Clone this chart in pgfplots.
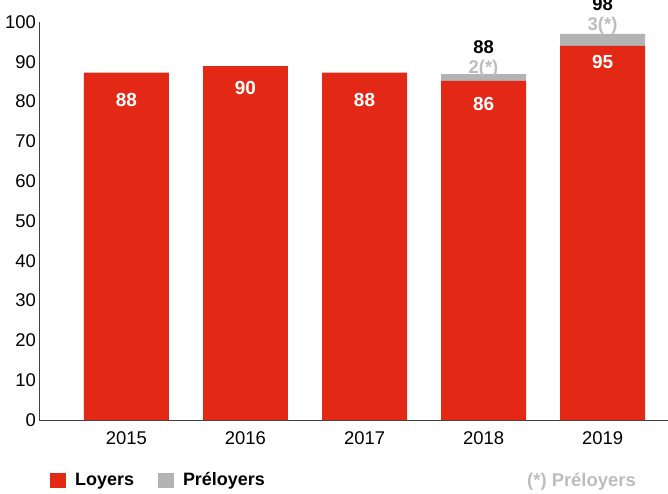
\documentclass[border=0pt]{standalone}
\usepackage{pgfplots}
\pgfplotsset{compat=1.18}
\usepackage{fontspec}
\setmainfont{Liberation Sans}
\definecolor{loyer}{HTML}{E42816}
\definecolor{prelo}{HTML}{B3B3B3}
\definecolor{prelotxt}{HTML}{BDBDBD}
\newcommand\labA{88\\\textcolor{prelotxt}{2(*)}}
\newcommand\labB{98\\\textcolor{prelotxt}{3(*)}}

\begin{document}
\begin{tikzpicture}
\begin{axis}[
  scale only axis,
  width=629bp, height=398bp,
  xmin=-0.735, xmax=4.55,
  ymin=0, ymax=100,
  ybar stacked, bar width=0.714,
  axis x line=bottom, axis y line=left,
  axis line style={-, draw=black!75, line width=0.8bp},
  xtick={0,...,4}, xticklabels={2015,2016,2017,2018,2019},
  ytick={0,10,...,100},
  major tick length=0pt,
  tick label style={font=\fontsize{18.5}{21}\selectfont, inner sep=0pt},
  xticklabel style={yshift=-11bp},
  yticklabel style={xshift=-3bp},
  /pgf/number format/assume math mode=true,
  legend style={draw=none, fill=none, at={(0.0175,-0.1508)}, anchor=west,
    font=\bfseries\fontsize{18}{21}\selectfont, inner sep=0pt,
    /tikz/every odd column/.append style={column sep=9bp},
    /tikz/every even column/.append style={column sep=24bp},
    nodes={inner sep=0pt, anchor=west}},
  legend columns=2,
  legend image code/.code={\fill[#1] (0bp,-7.5bp) rectangle (16bp,7.5bp);},
]
% Loyers (labels sit at the middle of each bar, shifted up by 'off')
\addplot[fill=loyer, draw=none, nodes near coords, point meta=explicit symbolic,
  visualization depends on={\thisrow{off} \as \off},
  every node near coord/.append style={anchor=center, yshift=\off bp, text=white,
    font=\bfseries\fontsize{19}{22}\selectfont}]
  table[x=x, y=y, meta=lbl] {
x y    lbl off
0 87.3 88  146.3
1 88.9 90  155.0
2 87.3 88  146.3
3 85.2 86  146.5
4 94.0 95  170.9
};
% Preloyers
\addplot[fill=prelo, draw=none, nodes near coords, point meta=explicit symbolic,
  visualization depends on={\thisrow{off} \as \off},
  every node near coord/.append style={anchor=center, align=center, yshift=\off bp,
    text=black, font=\bfseries\fontsize{18.5}{20}\selectfont}]
  table[x=x, y=y, meta=lbl] {
x y   lbl     off
0 0   {}      0
1 0   {}      0
2 0   {}      0
3 1.7 {\labA} 19
4 3.0 {\labB} 24
};
\legend{Loyers, Préloyers}
\end{axis}
\node[anchor=east, inner sep=0pt, text=prelotxt, font=\bfseries\fontsize{18.5}{21}\selectfont]
  at ([xshift=-32bp,yshift=-62bp]current axis.south east) {(*) Préloyers};
\pgfresetboundingbox
\path[use as bounding box] ([xshift=-39bp,yshift=-74bp]current axis.south west)
  rectangle ([yshift=22bp]current axis.north east);
\end{tikzpicture}
\end{document}
